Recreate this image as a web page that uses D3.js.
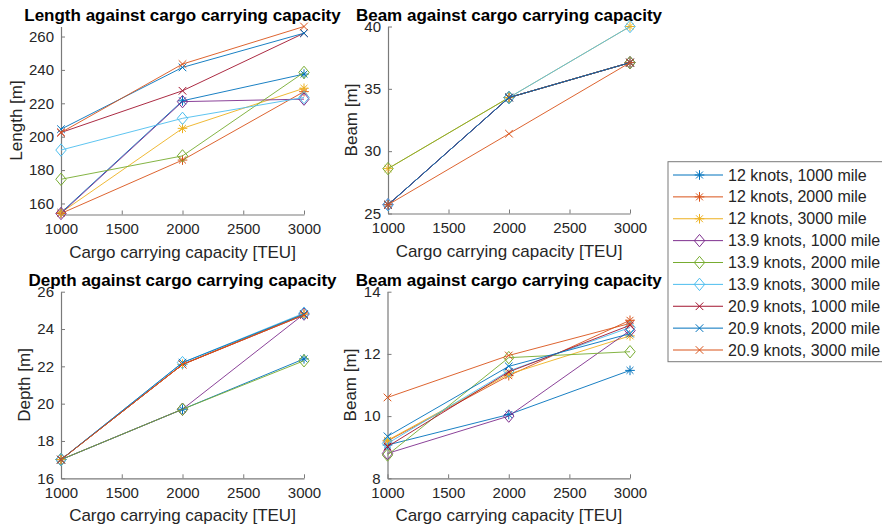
<!DOCTYPE html>
<html><head><meta charset="utf-8">
<script src="https://cdn.jsdelivr.net/npm/d3@7"></script>
<style>
body{margin:0;background:#fff;}
svg{display:block;font-family:"Liberation Sans",Arial,Helvetica,sans-serif;}
</style>
</head><body>
<svg id="c" width="882" height="529"></svg>
<script>
// ---------- data ----------
const capacity = [1000, 2000, 3000];
const seriesNames = [
  "12 knots, 1000 mile", "12 knots, 2000 mile", "12 knots, 3000 mile",
  "13.9 knots, 1000 mile", "13.9 knots, 2000 mile", "13.9 knots, 3000 mile",
  "20.9 knots, 1000 mile", "20.9 knots, 2000 mile", "20.9 knots, 3000 mile"
];
const seriesColors = ["#0072BD","#D95319","#EDB120","#7E2F8E","#77AC30","#4DBEEE","#A2142F","#0072BD","#D95319"];
const seriesMarkers = ["star","star","star","diamond","diamond","diamond","x","x","x"];

const lengthValues = [
  [154.5, 221.5, 237.5],
  [154.0, 186.0, 227.0],
  [154.5, 205.0, 229.0],
  [154.0, 221.0, 222.5],
  [174.5, 188.5, 238.5],
  [192.0, 211.0, 223.5],
  [202.5, 227.5, 262.0],
  [204.5, 241.5, 262.0],
  [202.5, 243.5, 266.0]
];
const beamValues = [
  [25.7, 34.3, 37.1],
  [25.7, 34.3, 37.1],
  [28.6, 34.3, 40.0],
  [25.7, 34.3, 37.1],
  [28.6, 34.3, 37.1],
  [25.7, 34.3, 40.0],
  [25.7, 34.3, 37.1],
  [25.7, 34.3, 37.1],
  [25.7, 31.4, 37.1]
];
const depthValues = [
  [17.0, 19.7, 22.4],
  [17.0, 22.1, 24.8],
  [17.0, 22.1, 24.8],
  [17.0, 19.7, 24.8],
  [17.0, 19.7, 22.3],
  [17.0, 22.2, 24.85],
  [17.0, 22.1, 24.75],
  [17.0, 22.2, 24.8],
  [17.0, 22.1, 24.75]
];
const beam2Values = [
  [9.07, 10.05, 11.47],
  [9.20, 11.30, 13.08],
  [9.22, 11.35, 12.58],
  [8.80, 10.00, 12.75],
  [8.75, 11.88, 12.07],
  [9.12, 11.45, 12.85],
  [9.02, 11.42, 12.92],
  [9.35, 11.60, 12.65],
  [10.60, 11.95, 12.98]
];
const xTicks = [1000, 1500, 2000, 2500, 3000];
const lengthTicks = [160, 180, 200, 220, 240, 260];
const beamTicks = [25, 30, 35, 40];
const depthTicks = [16, 18, 20, 22, 24, 26];
const beam2Ticks = [8, 10, 12, 14];

const titles = ["Length against cargo carrying capacity", "Beam against cargo carrying capacity",
                "Depth against cargo carrying capacity", "Beam against cargo carrying capacity"];
const yLabels = ["Length [m]", "Beam [m]", "Depth [m]", "Beam [m]"];
const xLabel = "Cargo carrying capacity [TEU]";

// ---------- layout ----------
const panels = [
  {values: lengthValues, ticks: lengthTicks, domain: [153.4, 266], r: {x0: 61, x1: 304, y0: 26.5, y1: 214.5}, ylx: 22},
  {values: beamValues,   ticks: beamTicks,   domain: [25, 40],     r: {x0: 388, x1: 630, y0: 26.5, y1: 213.5}, ylx: 357},
  {values: depthValues,  ticks: depthTicks,  domain: [16, 26],     r: {x0: 61, x1: 304, y0: 291.7, y1: 478.3}, ylx: 30},
  {values: beam2Values,  ticks: beam2Ticks,  domain: [8, 14],      r: {x0: 387.5, x1: 630, y0: 291.7, y1: 478.3}, ylx: 355.5}
];

const svg = d3.select("#c");
const axisColor = "#7a7a7a", textColor = "#262626";

function markerPath(type) {
  const p = d3.path();
  if (type === "star") {
    const r = 4.8, d = r * 0.72;
    p.moveTo(-r, 0); p.lineTo(r, 0);
    p.moveTo(0, -r); p.lineTo(0, r);
    p.moveTo(-d, -d); p.lineTo(d, d);
    p.moveTo(-d, d); p.lineTo(d, -d);
  } else if (type === "diamond") {
    const w = 5.2, h = 6.2;
    p.moveTo(0, -h); p.lineTo(w, 0); p.lineTo(0, h); p.lineTo(-w, 0); p.closePath();
  } else {
    const r = 3.8;
    p.moveTo(-r, -r); p.lineTo(r, r);
    p.moveTo(-r, r); p.lineTo(r, -r);
  }
  return p.toString();
}

panels.forEach((pn, i) => {
  const r = pn.r;
  const x = d3.scaleLinear().domain([1000, 3000]).range([r.x0, r.x1]);
  const y = d3.scaleLinear().domain(pn.domain).range([r.y1, r.y0]);
  const g = svg.append("g");

  const xa = g.append("g").attr("transform", `translate(0,${r.y1})`)
    .call(d3.axisBottom(x).tickValues(xTicks).tickFormat(d3.format("d")).tickSizeInner(-4).tickSizeOuter(0).tickPadding(9));
  const ya = g.append("g").attr("transform", `translate(${r.x0},0)`)
    .call(d3.axisLeft(y).tickValues(pn.ticks).tickFormat(d3.format("d")).tickSizeInner(-4).tickSizeOuter(0).tickPadding(7));
  [xa, ya].forEach(a => {
    a.select(".domain").attr("stroke", axisColor).attr("stroke-width", 1.2);
    a.selectAll(".tick line").attr("stroke", axisColor);
    a.selectAll(".tick text").attr("fill", textColor).style("font-size", "15px")
      .style("font-family", "'Liberation Sans', Arial, sans-serif");
  });

  pn.values.forEach((vals, s) => {
    const pts = capacity.map((c, k) => [x(c), y(vals[k])]);
    g.append("path").attr("d", d3.line()(pts))
      .attr("fill", "none").attr("stroke", seriesColors[s]).attr("stroke-width", 1).attr("opacity", 0.9);
    g.selectAll(null).data(pts).enter().append("path")
      .attr("transform", d => `translate(${d[0]},${d[1]})`)
      .attr("d", markerPath(seriesMarkers[s]))
      .attr("fill", "none").attr("stroke", seriesColors[s]).attr("stroke-width", 1);
  });

  g.append("text").attr("x", (r.x0 + r.x1) / 2).attr("y", r.y0 - 6)
    .attr("text-anchor", "middle").attr("font-weight", "bold").attr("font-size", 17)
    .attr("fill", "#000").text(titles[i]);
  g.append("text").attr("x", (r.x0 + r.x1) / 2).attr("y", r.y1 + 43)
    .attr("text-anchor", "middle").attr("font-size", 17).attr("fill", textColor).text(xLabel);
  g.append("text").attr("transform", `translate(${pn.ylx},${(r.y0 + r.y1) / 2}) rotate(-90)`)
    .attr("text-anchor", "middle").attr("font-size", 17).attr("fill", textColor).text(yLabels[i]);
});

// ---------- legend ----------
const lg = svg.append("g");
lg.append("rect").attr("x", 668).attr("y", 161.7).attr("width", 230).attr("height", 200)
  .attr("fill", "#fff").attr("stroke", "#7a7a7a").attr("stroke-width", 1);
seriesNames.forEach((name, s) => {
  const cy = 175 + s * 21.875;
  lg.append("line").attr("x1", 673).attr("x2", 723).attr("y1", cy).attr("y2", cy)
    .attr("stroke", seriesColors[s]).attr("stroke-width", 1);
  lg.append("path").attr("transform", `translate(699.5,${cy})`).attr("d", markerPath(seriesMarkers[s]))
    .attr("fill", "none").attr("stroke", seriesColors[s]).attr("stroke-width", 1);
  lg.append("text").attr("x", 728).attr("y", cy + 5.6).attr("font-size", 16).attr("fill", textColor).text(name);
});
</script>
</body></html>
